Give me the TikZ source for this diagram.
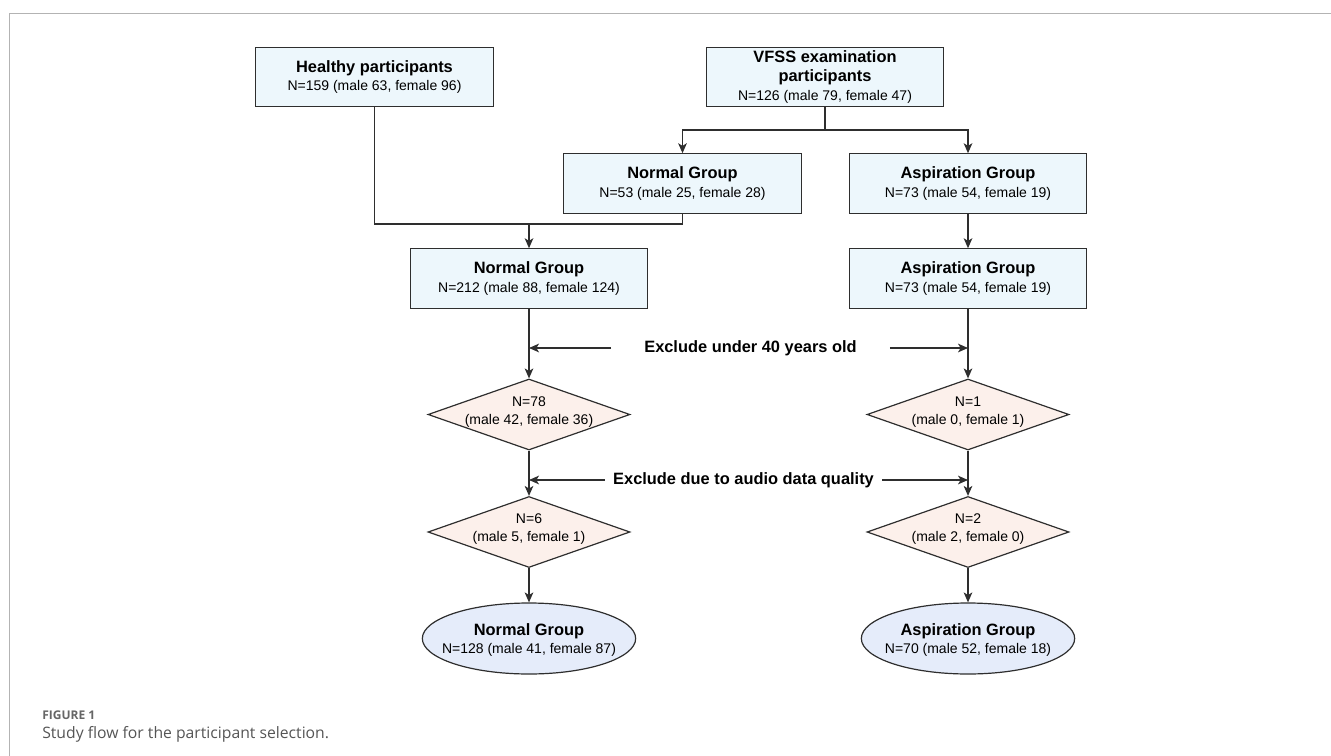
\documentclass[tikz,border=0pt]{standalone}
\usepackage{fontspec}
\setmainfont{Liberation Sans}
\newfontfamily\capfont{Open Sans}
\usetikzlibrary{shapes.geometric,arrows.meta}
\definecolor{boxfill}{HTML}{EDF7FC}
\definecolor{diafill}{HTML}{FCF0EB}
\definecolor{ellfill}{HTML}{E5ECFA}
\definecolor{edgecol}{HTML}{2E2E2E}
\definecolor{framegray}{HTML}{B3B3B3}
\definecolor{capgray}{HTML}{666666}
\definecolor{capgraytwo}{HTML}{555555}
\newcommand\mytitle{\fontsize{12.3pt}{14pt}\selectfont\bfseries}
\newcommand\mysub{\fontsize{10.5pt}{14pt}\selectfont}
\begin{document}
\begin{tikzpicture}[x=0.75pt,y=-0.75pt,
  box/.style={draw=edgecol, line width=0.9pt, fill=boxfill, minimum width=178pt, minimum height=44.5pt, inner sep=0pt, align=center, font=\mysub, text=black},
  dia/.style={draw=edgecol, line width=0.9pt, fill=diafill, diamond, minimum width=151.5pt, minimum height=53.25pt, inner sep=0pt},
  ell/.style={draw=edgecol, line width=0.9pt, fill=ellfill, ellipse, minimum width=160pt, minimum height=53.25pt, inner sep=0pt},
  dtext/.style={align=center, font=\fontsize{10.5pt}{13.5pt}\selectfont, inner sep=0pt},
  etext/.style={align=center, font=\mysub, inner sep=0pt},
  extext/.style={font=\mytitle, inner ysep=0pt},
  line/.style={draw=edgecol, line width=0.9pt},
  arr/.style={draw=edgecol, line width=0.9pt, -{Stealth[length=7.5pt,width=6.5pt,inset=2pt]}}
]
\useasboundingbox (0,0) rectangle (1331,756);
% frame
\draw[framegray, line width=1.1pt] (1331,13.5) -- (9.5,13.5) -- (9.5,756);

% boxes
\node[box] (healthy) at (374.5,77) {{\mytitle Healthy participants}\\N=159 (male 63, female 96)};
\node[box] (vfss) at (825,77) {{\mytitle VFSS examination}\\{\mytitle participants}\\N=126 (male 79, female 47)};
\node[box] (n53) at (682.5,183.5) {{\mytitle Normal Group}\\N=53 (male 25, female 28)};
\node[box] (a73) at (968,183.5) {{\mytitle Aspiration Group}\\N=73 (male 54, female 19)};
\node[box] (n212) at (529,278.5) {{\mytitle Normal Group}\\N=212 (male 88, female 124)};
\node[box] (a73b) at (968,278.5) {{\mytitle Aspiration Group}\\N=73 (male 54, female 19)};

% diamonds
\node[dia] (d78) at (529,414.5) {};
\node[dtext] (d78t) at (529,412) {N=78\\(male 42, female 36)};
\node[dia] (d1) at (968,414.5) {};
\node[dtext] (d1t) at (968,412) {N=1\\(male 0, female 1)};
\node[dia] (d6) at (529,532) {};
\node[dtext] (d6t) at (529,529.5) {N=6\\(male 5, female 1)};
\node[dia] (d2) at (968,532) {};
\node[dtext] (d2t) at (968,529.5) {N=2\\(male 2, female 0)};

% ellipses
\node[ell] (e128) at (529,638.5) {};
\node[etext] (e128t) at (529,640) {{\mytitle Normal Group}\\N=128 (male 41, female 87)};
\node[ell] (e70) at (968,638.5) {};
\node[etext] (e70t) at (968,640) {{\mytitle Aspiration Group}\\N=70 (male 52, female 18)};

% exclusion labels
\node[extext, inner xsep=24.75pt] (ex1) at (750.5,348) {Exclude under 40 years old};
\node[extext, inner xsep=6pt] (ex2) at (743.5,480) {Exclude due to audio data quality};

% connectors
\coordinate (br) at (825,130);
\draw[line] (vfss.south) -- (br);
\draw[arr] (br) -| (n53.north);
\draw[arr] (br) -| (a73.north);
\coordinate (mj) at (529,224);
\draw[line] (healthy.south) |- (mj) -| (n53.south);
\draw[arr] (mj) -- (n212.north);
\draw[arr] (a73.south) -- (a73b.north);
\draw[arr] (n212.south) -- (d78.north);
\draw[arr] (a73b.south) -- (d1.north);
\draw[arr] (d78.south) -- (d6.north);
\draw[arr] (d1.south) -- (d2.north);
\draw[arr] (d6.south) -- (e128.north);
\draw[arr] (d2.south) -- (e70.north);
\draw[arr] (ex1.west) -- (ex1.west -| n212.south);
\draw[arr] (ex1.east) -- (ex1.east -| a73b.south);
\draw[arr] (ex2.west) -- (ex2.west -| d78.south);
\draw[arr] (ex2.east) -- (ex2.east -| d1.south);

% caption
\node[anchor=base west, inner sep=0pt, font=\capfont\fontsize{9pt}{11pt}\selectfont\bfseries, text=capgray] (figlabel) at (42,719) {FIGURE 1};
\node[anchor=base west, inner sep=0pt, font=\capfont\fontsize{11.8pt}{14pt}\selectfont, text=capgraytwo] (figcap) at (42,738) {Study flow for the participant selection.};
\end{tikzpicture}
\end{document}
